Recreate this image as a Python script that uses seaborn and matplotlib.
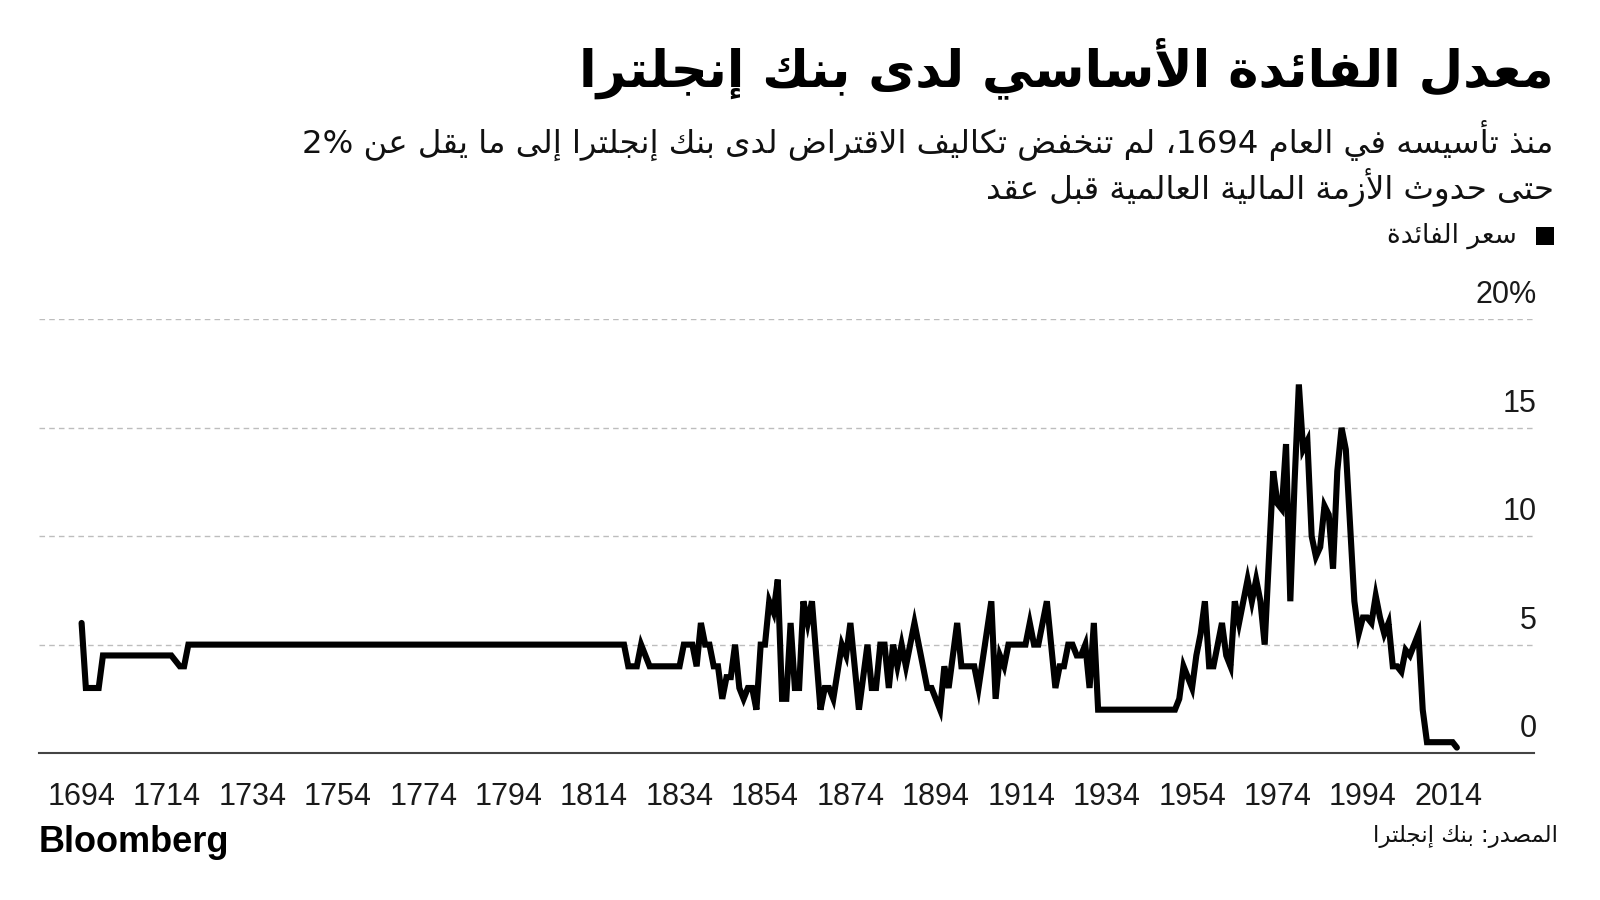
import re
import matplotlib
matplotlib.use('Agg')
import matplotlib.pyplot as plt
from matplotlib.patches import Rectangle
import seaborn as sns
import pandas as pd

# texts
title = 'معدل الفائدة الأساسي لدى بنك إنجلترا'
subtitle_1 = 'منذ تأسيسه في العام 1694، لم تنخفض تكاليف الاقتراض لدى بنك إنجلترا إلى ما يقل عن 2%'
subtitle_2 = 'حتى حدوث الأزمة المالية العالمية قبل عقد'
legend_label = 'سعر الفائدة'
source = 'المصدر: بنك إنجلترا'
brand = 'Bloomberg'

# Bank rate (only the years where the line bends)
years = [1694, 1695, 1698, 1699, 1715, 1717, 1718, 1719, 1821, 1822, 1824, 1825,
         1827, 1834, 1835, 1837, 1838, 1839, 1840, 1841, 1842, 1843, 1844, 1845,
         1846, 1847, 1848, 1849, 1850, 1851, 1852, 1853, 1854, 1855, 1856, 1857,
         1858, 1859, 1860, 1861, 1862, 1863, 1864, 1865, 1867, 1868, 1869, 1870,
         1872, 1873, 1874, 1876, 1878, 1879, 1880, 1881, 1882, 1883, 1884, 1885,
         1886, 1887, 1889, 1892, 1893, 1895, 1896, 1897, 1899, 1900, 1903, 1904,
         1907, 1908, 1909, 1910, 1911, 1915, 1916, 1917, 1918, 1920, 1922, 1923,
         1924, 1925, 1926, 1927, 1928, 1929, 1930, 1931, 1932, 1950, 1951, 1952,
         1953, 1954, 1955, 1956, 1957, 1958, 1959, 1960, 1961, 1962, 1963, 1964,
         1965, 1967, 1968, 1969, 1970, 1971, 1972, 1973, 1974, 1975, 1976, 1977,
         1978, 1979, 1980, 1981, 1982, 1983, 1984, 1985, 1986, 1987, 1988, 1989,
         1990, 1991, 1992, 1993, 1994, 1995, 1996, 1997, 1998, 1999, 2000, 2001,
         2002, 2003, 2004, 2005, 2006, 2007, 2008, 2009, 2015, 2016]
rates = [6, 3, 3, 4.5, 4.5, 4, 4, 5, 5, 4, 4, 5,
         4, 4, 5, 5, 4, 6, 5, 5, 4, 4, 2.5, 3.5,
         3.5, 5, 3, 2.5, 3, 3, 2, 5, 5, 7, 6.5, 8,
         2.5, 2.5, 6, 3, 3, 7, 6, 7, 2, 3, 3, 2.5,
         5, 4.5, 6, 2, 5, 3, 3, 5, 5, 3, 5, 4,
         5, 4, 6, 3, 3, 2, 4, 3, 6, 4, 4, 3,
         7, 2.5, 4.5, 4, 5, 5, 6, 5, 5, 7, 3, 4,
         4, 5, 5, 4.5, 4.5, 5, 3, 6, 2, 2, 2.5, 4,
         3.5, 3, 4.5, 5.5, 7, 4, 4, 5, 6, 4.5, 4, 7,
         6, 8, 7, 8, 7, 5, 9, 13, 11.5, 11.25, 14.25, 7,
         12.5, 17, 14, 14.4, 10, 9.06, 9.5, 11.4, 11, 8.5, 13, 15,
         14, 10.5, 7, 5.5, 6.25, 6.25, 6, 7.25, 6.25, 5.5, 6, 4,
         4, 3.75, 4.75, 4.5, 5, 5.5, 2, 0.5, 0.5, 0.25]

x_ticks = [1694, 1714, 1734, 1754, 1774, 1794, 1814, 1834, 1854, 1874, 1894,
           1914, 1934, 1954, 1974, 1994, 2014]
y_ticks = [0, 5, 10, 15, 20]
y_tick_labels = ['0', '5', '10', '15', '20%']

# --- minimal arabic shaping (presentation forms + right-to-left order) ---
TWO_FORM = 'آأؤإاةدذرزوى'
FORMS = {'ء': '\ufe80'}
_code = 0xFE81
for _cp in list(range(0x622, 0x63B)) + list(range(0x641, 0x64B)):
    _n = 2 if chr(_cp) in TWO_FORM else 4
    FORMS[chr(_cp)] = ''.join(chr(_code + k) for k in range(_n))
    _code += _n
LAM_ALEF = {'آ': '\ufef5\ufef6', 'أ': '\ufef7\ufef8', 'إ': '\ufef9\ufefa', 'ا': '\ufefb\ufefc'}


def arabic(text):
    units = []
    i = 0
    while i < len(text):
        if text[i] == 'ل' and text[i + 1:i + 2] in LAM_ALEF:
            units.append(text[i:i + 2])
            i += 2
        else:
            units.append(text[i])
            i += 1

    def joins_next(u):
        return len(u) == 1 and len(FORMS.get(u, '')) == 4

    def is_arabic(u):
        return len(u) == 2 or (u in FORMS and u != 'ء')

    out = ''
    for k, u in enumerate(units):
        jp = k > 0 and joins_next(units[k - 1]) and is_arabic(u)
        jn = k + 1 < len(units) and joins_next(u) and is_arabic(units[k + 1])
        if len(u) == 2:
            out += LAM_ALEF[u[1]][int(jp)]
        elif u in FORMS:
            f = FORMS[u]
            if len(f) == 4:
                out += f[int(jp) + 2 * int(jn)]
            elif len(f) == 2:
                out += f[int(jp)]
            else:
                out += f
        else:
            out += u
    vis = out[::-1]
    return re.sub(r'[0-9A-Za-z%.]+', lambda m: m.group(0)[::-1], vis)


sns.set_style('white')
plt.rcParams['font.family'] = ['Liberation Sans', 'DejaVu Sans']
AR = ['DejaVu Sans']

df = pd.DataFrame({'year': years, 'rate': rates})

fig = plt.figure(figsize=(16, 9), dpi=100)
ax = fig.add_axes([0.0243, 0.1633, 0.9343, 0.4818])

sns.lineplot(data=df, x='year', y='rate', ax=ax, color='black', linewidth=4.4,
             solid_joinstyle='miter')

ax.set_xlim(1684, 2034)
ax.set_ylim(0, 20)
for s in ['top', 'left', 'right']:
    ax.spines[s].set_visible(False)
ax.spines['bottom'].set_color('#444444')
ax.spines['bottom'].set_linewidth(1.5)

ax.set_xticks(x_ticks)
ax.set_xticklabels([str(t) for t in x_ticks])
ax.tick_params(axis='x', length=8, width=1, color='#555555', pad=13,
               labelsize=22, labelcolor='#1a1a1a')
ax.set_yticks(y_ticks)
ax.tick_params(axis='y', length=0, labelleft=False)
ax.grid(axis='y', linestyle=(0, (4, 3)), color='#bdbdbd', linewidth=1)
ax.grid(axis='x', visible=False)
ax.set_xlabel('')
ax.set_ylabel('')

for v, lab in zip(y_ticks, y_tick_labels):
    ax.annotate(lab, xy=(1.0, v), xycoords=('axes fraction', 'data'),
                xytext=(2, 11.5), textcoords='offset points',
                ha='right', va='baseline', fontsize=22, color='#1a1a1a',
                annotation_clip=False)

# header
fig.text(0.971, 0.924, arabic(title), ha='right', va='center', family=AR,
         fontsize=37, fontweight='bold', color='black')
fig.text(0.971, 0.8444, arabic(subtitle_1), ha='right', va='center', family=AR,
         fontsize=23.3, color='#111111')
fig.text(0.971, 0.792, arabic(subtitle_2), ha='right', va='center', family=AR,
         fontsize=23.3, color='#111111')
fig.patches.append(Rectangle((0.96, 0.7278), 0.0115, 0.0204, transform=fig.transFigure,
                             facecolor='black', edgecolor='none'))
fig.text(0.948, 0.738, arabic(legend_label), ha='right', va='center', family=AR,
         fontsize=19, color='#111111')

# footer
fig.text(0.0244, 0.0644, brand, ha='left', va='center', fontsize=26,
         fontweight='bold', color='black')
fig.text(0.974, 0.07, arabic(source), ha='right', va='center', family=AR,
         fontsize=16.5, color='#111111')

fig.savefig('out.png', dpi=100)
